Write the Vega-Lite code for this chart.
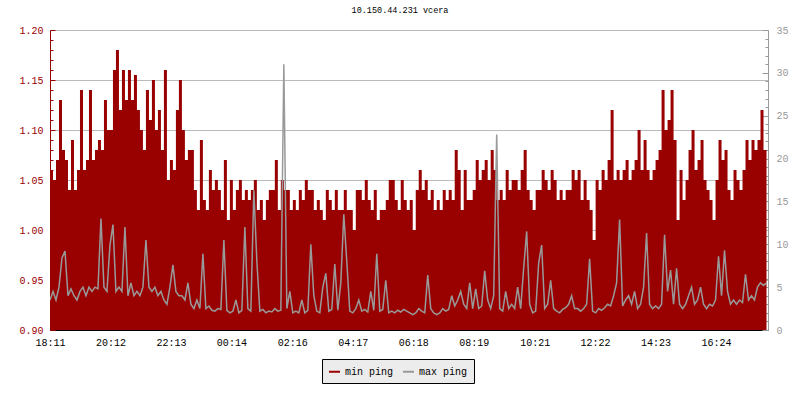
{
"$schema": "https://vega.github.io/schema/vega-lite/v6.json",
"width": 718, "height": 300,
"autosize": {"type": "none"},
"padding": {"left": 50, "top": 30, "right": 32, "bottom": 70},
"title": {"text": "10.150.44.231 vcera", "anchor": "middle", "frame": "group", "dx": -9, "offset": 11, "font": "Liberation Mono", "fontSize": 8.5, "fontWeight": "normal", "color": "#000000"},
"config": {"font": "Liberation Mono", "view": {"stroke": null}, "axis": {"labelFont": "Liberation Mono", "labelFontSize": 10, "title": null}},
"data": {"values": [
{"t":"2023-01-01T18:11","mn":1.06,"mx":3.5},{"t":"2023-01-01T18:17","mn":1.05,"mx":4.5},{"t":"2023-01-01T18:23","mn":1.07,"mx":3.5},{"t":"2023-01-01T18:29","mn":1.13,"mx":5.0},{"t":"2023-01-01T18:35","mn":1.08,"mx":8.4},{"t":"2023-01-01T18:41","mn":1.07,"mx":9.2},{"t":"2023-01-01T18:47","mn":1.04,"mx":4.0},{"t":"2023-01-01T18:53","mn":1.09,"mx":4.8},{"t":"2023-01-01T18:59","mn":1.04,"mx":4.0},{"t":"2023-01-01T19:05","mn":1.06,"mx":3.5},
{"t":"2023-01-01T19:11","mn":1.14,"mx":4.5},{"t":"2023-01-01T19:17","mn":1.06,"mx":5.0},{"t":"2023-01-01T19:23","mn":1.07,"mx":4.0},{"t":"2023-01-01T19:29","mn":1.14,"mx":5.0},{"t":"2023-01-01T19:35","mn":1.07,"mx":4.5},{"t":"2023-01-01T19:41","mn":1.08,"mx":5.0},{"t":"2023-01-01T19:47","mn":1.09,"mx":4.8},{"t":"2023-01-01T19:53","mn":1.08,"mx":13.0},{"t":"2023-01-01T19:59","mn":1.13,"mx":5.0},{"t":"2023-01-01T20:05","mn":1.10,"mx":4.5},
{"t":"2023-01-01T20:11","mn":1.10,"mx":9.9},{"t":"2023-01-01T20:17","mn":1.16,"mx":12.3},{"t":"2023-01-01T20:23","mn":1.18,"mx":4.5},{"t":"2023-01-01T20:29","mn":1.12,"mx":5.0},{"t":"2023-01-01T20:35","mn":1.16,"mx":4.5},{"t":"2023-01-01T20:41","mn":1.13,"mx":12.0},{"t":"2023-01-01T20:47","mn":1.16,"mx":4.0},{"t":"2023-01-01T20:53","mn":1.13,"mx":5.5},{"t":"2023-01-01T20:59","mn":1.155,"mx":4.0},{"t":"2023-01-01T21:05","mn":1.12,"mx":4.5},
{"t":"2023-01-01T21:11","mn":1.10,"mx":4.0},{"t":"2023-01-01T21:17","mn":1.08,"mx":5.0},{"t":"2023-01-01T21:23","mn":1.14,"mx":10.5},{"t":"2023-01-01T21:29","mn":1.11,"mx":5.0},{"t":"2023-01-01T21:35","mn":1.15,"mx":4.5},{"t":"2023-01-01T21:41","mn":1.10,"mx":5.0},{"t":"2023-01-01T21:47","mn":1.12,"mx":4.0},{"t":"2023-01-01T21:53","mn":1.08,"mx":4.5},{"t":"2023-01-01T21:59","mn":1.16,"mx":3.5},{"t":"2023-01-01T22:05","mn":1.05,"mx":3.0},
{"t":"2023-01-01T22:11","mn":1.07,"mx":5.0},{"t":"2023-01-01T22:17","mn":1.06,"mx":7.6},{"t":"2023-01-01T22:23","mn":1.12,"mx":4.5},{"t":"2023-01-01T22:29","mn":1.15,"mx":4.0},{"t":"2023-01-01T22:35","mn":1.10,"mx":4.0},{"t":"2023-01-01T22:41","mn":1.07,"mx":3.5},{"t":"2023-01-01T22:47","mn":1.08,"mx":5.5},{"t":"2023-01-01T22:53","mn":1.08,"mx":3.0},{"t":"2023-01-01T22:59","mn":1.04,"mx":2.5},{"t":"2023-01-01T23:05","mn":1.02,"mx":3.5},
{"t":"2023-01-01T23:11","mn":1.09,"mx":2.5},{"t":"2023-01-01T23:17","mn":1.03,"mx":8.9},{"t":"2023-01-01T23:23","mn":1.02,"mx":2.5},{"t":"2023-01-01T23:29","mn":1.06,"mx":2.8},{"t":"2023-01-01T23:35","mn":1.04,"mx":2.3},{"t":"2023-01-01T23:41","mn":1.05,"mx":2.2},{"t":"2023-01-01T23:47","mn":1.04,"mx":2.5},{"t":"2023-01-01T23:53","mn":1.02,"mx":2.4},{"t":"2023-01-01T23:59","mn":1.07,"mx":10.5},{"t":"2023-01-02T00:05","mn":1.01,"mx":2.3},
{"t":"2023-01-02T00:11","mn":1.05,"mx":2.0},{"t":"2023-01-02T00:17","mn":1.02,"mx":2.2},{"t":"2023-01-02T00:23","mn":1.04,"mx":3.5},{"t":"2023-01-02T00:29","mn":1.05,"mx":2.0},{"t":"2023-01-02T00:35","mn":1.03,"mx":2.3},{"t":"2023-01-02T00:41","mn":1.04,"mx":12.0},{"t":"2023-01-02T00:47","mn":1.03,"mx":2.5},{"t":"2023-01-02T00:53","mn":1.04,"mx":2.2},{"t":"2023-01-02T00:59","mn":1.05,"mx":16.3},{"t":"2023-01-02T01:05","mn":1.02,"mx":8.0},
{"t":"2023-01-02T01:11","mn":1.03,"mx":2.2},{"t":"2023-01-02T01:17","mn":1.01,"mx":2.4},{"t":"2023-01-02T01:23","mn":1.03,"mx":2.0},{"t":"2023-01-02T01:29","mn":1.04,"mx":2.2},{"t":"2023-01-02T01:35","mn":1.04,"mx":2.1},{"t":"2023-01-02T01:41","mn":1.07,"mx":2.5},{"t":"2023-01-02T01:47","mn":1.02,"mx":2.2},{"t":"2023-01-02T01:53","mn":1.05,"mx":2.3},{"t":"2023-01-02T01:59","mn":1.04,"mx":31.0},{"t":"2023-01-02T02:05","mn":1.04,"mx":2.5},
{"t":"2023-01-02T02:11","mn":1.02,"mx":4.5},{"t":"2023-01-02T02:17","mn":1.03,"mx":2.0},{"t":"2023-01-02T02:23","mn":1.02,"mx":2.2},{"t":"2023-01-02T02:29","mn":1.04,"mx":2.0},{"t":"2023-01-02T02:35","mn":1.03,"mx":3.5},{"t":"2023-01-02T02:41","mn":1.05,"mx":2.0},{"t":"2023-01-02T02:47","mn":1.04,"mx":2.3},{"t":"2023-01-02T02:53","mn":1.04,"mx":10.0},{"t":"2023-01-02T02:59","mn":1.02,"mx":4.0},{"t":"2023-01-02T03:05","mn":1.03,"mx":2.2},
{"t":"2023-01-02T03:11","mn":1.02,"mx":2.0},{"t":"2023-01-02T03:17","mn":1.01,"mx":5.0},{"t":"2023-01-02T03:23","mn":1.04,"mx":6.6},{"t":"2023-01-02T03:29","mn":1.03,"mx":2.2},{"t":"2023-01-02T03:35","mn":1.02,"mx":2.4},{"t":"2023-01-02T03:41","mn":1.04,"mx":7.7},{"t":"2023-01-02T03:47","mn":1.02,"mx":2.3},{"t":"2023-01-02T03:53","mn":1.02,"mx":5.5},{"t":"2023-01-02T03:59","mn":1.04,"mx":13.5},{"t":"2023-01-02T04:05","mn":1.02,"mx":8.0},
{"t":"2023-01-02T04:11","mn":1.02,"mx":2.2},{"t":"2023-01-02T04:17","mn":1.00,"mx":2.0},{"t":"2023-01-02T04:23","mn":1.04,"mx":2.5},{"t":"2023-01-02T04:29","mn":1.04,"mx":3.5},{"t":"2023-01-02T04:35","mn":1.03,"mx":2.2},{"t":"2023-01-02T04:41","mn":1.05,"mx":2.4},{"t":"2023-01-02T04:47","mn":1.03,"mx":2.1},{"t":"2023-01-02T04:53","mn":1.02,"mx":4.5},{"t":"2023-01-02T04:59","mn":1.04,"mx":2.3},{"t":"2023-01-02T05:05","mn":1.01,"mx":8.9},
{"t":"2023-01-02T05:11","mn":1.02,"mx":2.2},{"t":"2023-01-02T05:17","mn":1.02,"mx":2.4},{"t":"2023-01-02T05:23","mn":1.03,"mx":5.8},{"t":"2023-01-02T05:29","mn":1.05,"mx":2.0},{"t":"2023-01-02T05:35","mn":1.05,"mx":2.2},{"t":"2023-01-02T05:41","mn":1.03,"mx":2.0},{"t":"2023-01-02T05:47","mn":1.02,"mx":2.3},{"t":"2023-01-02T05:53","mn":1.05,"mx":2.1},{"t":"2023-01-02T05:59","mn":1.03,"mx":2.4},{"t":"2023-01-02T06:05","mn":1.02,"mx":2.2},
{"t":"2023-01-02T06:11","mn":1.03,"mx":2.0},{"t":"2023-01-02T06:17","mn":1.00,"mx":1.8},{"t":"2023-01-02T06:23","mn":1.04,"mx":2.0},{"t":"2023-01-02T06:29","mn":1.06,"mx":2.5},{"t":"2023-01-02T06:35","mn":1.04,"mx":2.2},{"t":"2023-01-02T06:41","mn":1.05,"mx":2.0},{"t":"2023-01-02T06:47","mn":1.03,"mx":6.4},{"t":"2023-01-02T06:53","mn":1.04,"mx":2.5},{"t":"2023-01-02T06:59","mn":1.02,"mx":2.0},{"t":"2023-01-02T07:05","mn":1.03,"mx":1.8},
{"t":"2023-01-02T07:11","mn":1.02,"mx":2.0},{"t":"2023-01-02T07:17","mn":1.04,"mx":2.5},{"t":"2023-01-02T07:23","mn":1.03,"mx":2.2},{"t":"2023-01-02T07:29","mn":1.04,"mx":2.4},{"t":"2023-01-02T07:35","mn":1.03,"mx":4.0},{"t":"2023-01-02T07:41","mn":1.08,"mx":2.8},{"t":"2023-01-02T07:47","mn":1.06,"mx":3.5},{"t":"2023-01-02T07:53","mn":1.02,"mx":4.5},{"t":"2023-01-02T07:59","mn":1.06,"mx":3.0},{"t":"2023-01-02T08:05","mn":1.03,"mx":2.5},
{"t":"2023-01-02T08:11","mn":1.03,"mx":5.5},{"t":"2023-01-02T08:17","mn":1.04,"mx":2.5},{"t":"2023-01-02T08:23","mn":1.07,"mx":4.8},{"t":"2023-01-02T08:29","mn":1.05,"mx":2.5},{"t":"2023-01-02T08:35","mn":1.06,"mx":2.8},{"t":"2023-01-02T08:41","mn":1.07,"mx":6.9},{"t":"2023-01-02T08:47","mn":1.05,"mx":3.5},{"t":"2023-01-02T08:53","mn":1.08,"mx":2.5},{"t":"2023-01-02T08:59","mn":1.06,"mx":4.0},{"t":"2023-01-02T09:05","mn":1.03,"mx":22.8},
{"t":"2023-01-02T09:11","mn":1.04,"mx":2.5},{"t":"2023-01-02T09:17","mn":1.03,"mx":2.2},{"t":"2023-01-02T09:23","mn":1.06,"mx":4.5},{"t":"2023-01-02T09:29","mn":1.04,"mx":2.5},{"t":"2023-01-02T09:35","mn":1.05,"mx":3.0},{"t":"2023-01-02T09:41","mn":1.05,"mx":2.5},{"t":"2023-01-02T09:47","mn":1.04,"mx":5.0},{"t":"2023-01-02T09:53","mn":1.06,"mx":2.5},{"t":"2023-01-02T09:59","mn":1.08,"mx":7.2},{"t":"2023-01-02T10:05","mn":1.04,"mx":11.5},
{"t":"2023-01-02T10:11","mn":1.03,"mx":3.0},{"t":"2023-01-02T10:17","mn":1.02,"mx":2.0},{"t":"2023-01-02T10:23","mn":1.04,"mx":2.2},{"t":"2023-01-02T10:29","mn":1.04,"mx":7.8},{"t":"2023-01-02T10:35","mn":1.06,"mx":9.9},{"t":"2023-01-02T10:41","mn":1.05,"mx":2.5},{"t":"2023-01-02T10:47","mn":1.04,"mx":3.0},{"t":"2023-01-02T10:53","mn":1.06,"mx":5.8},{"t":"2023-01-02T10:59","mn":1.05,"mx":2.5},{"t":"2023-01-02T11:05","mn":1.03,"mx":2.2},
{"t":"2023-01-02T11:11","mn":1.04,"mx":2.0},{"t":"2023-01-02T11:17","mn":1.03,"mx":2.4},{"t":"2023-01-02T11:23","mn":1.04,"mx":2.6},{"t":"2023-01-02T11:29","mn":1.04,"mx":3.0},{"t":"2023-01-02T11:35","mn":1.06,"mx":4.0},{"t":"2023-01-02T11:41","mn":1.05,"mx":2.5},{"t":"2023-01-02T11:47","mn":1.06,"mx":2.5},{"t":"2023-01-02T11:53","mn":1.03,"mx":2.2},{"t":"2023-01-02T11:59","mn":1.05,"mx":2.5},{"t":"2023-01-02T12:05","mn":1.03,"mx":3.0},
{"t":"2023-01-02T12:11","mn":1.02,"mx":8.3},{"t":"2023-01-02T12:17","mn":0.99,"mx":2.2},{"t":"2023-01-02T12:23","mn":1.05,"mx":2.0},{"t":"2023-01-02T12:29","mn":1.04,"mx":2.5},{"t":"2023-01-02T12:35","mn":1.06,"mx":2.3},{"t":"2023-01-02T12:41","mn":1.05,"mx":2.6},{"t":"2023-01-02T12:47","mn":1.07,"mx":3.0},{"t":"2023-01-02T12:53","mn":1.12,"mx":2.8},{"t":"2023-01-02T12:59","mn":1.05,"mx":4.0},{"t":"2023-01-02T13:05","mn":1.06,"mx":5.5},
{"t":"2023-01-02T13:11","mn":1.05,"mx":12.9},{"t":"2023-01-02T13:17","mn":1.06,"mx":2.8},{"t":"2023-01-02T13:23","mn":1.07,"mx":3.5},{"t":"2023-01-02T13:29","mn":1.05,"mx":4.0},{"t":"2023-01-02T13:35","mn":1.06,"mx":3.0},{"t":"2023-01-02T13:41","mn":1.07,"mx":4.5},{"t":"2023-01-02T13:47","mn":1.10,"mx":2.5},{"t":"2023-01-02T13:53","mn":1.06,"mx":3.0},{"t":"2023-01-02T13:59","mn":1.09,"mx":5.0},{"t":"2023-01-02T14:05","mn":1.06,"mx":11.3},
{"t":"2023-01-02T14:11","mn":1.05,"mx":3.0},{"t":"2023-01-02T14:17","mn":1.06,"mx":2.5},{"t":"2023-01-02T14:23","mn":1.07,"mx":2.8},{"t":"2023-01-02T14:29","mn":1.08,"mx":2.5},{"t":"2023-01-02T14:35","mn":1.14,"mx":3.0},{"t":"2023-01-02T14:41","mn":1.10,"mx":11.1},{"t":"2023-01-02T14:47","mn":1.11,"mx":4.5},{"t":"2023-01-02T14:53","mn":1.14,"mx":7.0},{"t":"2023-01-02T14:59","mn":1.09,"mx":3.0},{"t":"2023-01-02T15:05","mn":1.01,"mx":7.2},
{"t":"2023-01-02T15:11","mn":1.06,"mx":3.0},{"t":"2023-01-02T15:17","mn":1.03,"mx":2.5},{"t":"2023-01-02T15:23","mn":1.05,"mx":3.0},{"t":"2023-01-02T15:29","mn":1.08,"mx":4.0},{"t":"2023-01-02T15:35","mn":1.10,"mx":5.0},{"t":"2023-01-02T15:41","mn":1.06,"mx":3.0},{"t":"2023-01-02T15:47","mn":1.07,"mx":3.5},{"t":"2023-01-02T15:53","mn":1.09,"mx":5.0},{"t":"2023-01-02T15:59","mn":1.05,"mx":3.0},{"t":"2023-01-02T16:05","mn":1.04,"mx":2.5},
{"t":"2023-01-02T16:11","mn":1.03,"mx":3.0},{"t":"2023-01-02T16:17","mn":1.01,"mx":2.8},{"t":"2023-01-02T16:23","mn":1.05,"mx":3.5},{"t":"2023-01-02T16:29","mn":1.09,"mx":8.6},{"t":"2023-01-02T16:35","mn":1.07,"mx":4.0},{"t":"2023-01-02T16:41","mn":1.08,"mx":9.3},{"t":"2023-01-02T16:47","mn":1.04,"mx":4.5},{"t":"2023-01-02T16:53","mn":1.03,"mx":3.0},{"t":"2023-01-02T16:59","mn":1.06,"mx":3.5},{"t":"2023-01-02T17:05","mn":1.05,"mx":3.0},
{"t":"2023-01-02T17:11","mn":1.04,"mx":3.5},{"t":"2023-01-02T17:17","mn":1.06,"mx":3.2},{"t":"2023-01-02T17:23","mn":1.09,"mx":6.5},{"t":"2023-01-02T17:29","mn":1.07,"mx":3.5},{"t":"2023-01-02T17:35","mn":1.09,"mx":4.0},{"t":"2023-01-02T17:41","mn":1.08,"mx":3.5},{"t":"2023-01-02T17:47","mn":1.09,"mx":5.0},{"t":"2023-01-02T17:53","mn":1.12,"mx":5.5},{"t":"2023-01-02T17:59","mn":1.08,"mx":5.2},{"t":"2023-01-02T18:05","mn":1.05,"mx":5.5}
]},
"encoding": {
  "x": {"field": "t", "type": "temporal",
    "scale": {"domain": [{"year": 2023, "month": 1, "date": 1, "hours": 18, "minutes": 11}, {"year": 2023, "month": 1, "date": 2, "hours": 18, "minutes": 8}]},
    "axis": {"format": "%H:%M", "grid": false, "labelFlush": false, "labelOverlap": false, "labelColor": "#000000", "domainColor": "#000000", "tickColor": "#000000", "tickSize": -6, "labelPadding": 13,
      "values": [
        {"year": 2023, "month": 1, "date": 1, "hours": 18, "minutes": 11},
        {"year": 2023, "month": 1, "date": 1, "hours": 20, "minutes": 12},
        {"year": 2023, "month": 1, "date": 1, "hours": 22, "minutes": 13},
        {"year": 2023, "month": 1, "date": 2, "hours": 0, "minutes": 14},
        {"year": 2023, "month": 1, "date": 2, "hours": 2, "minutes": 16},
        {"year": 2023, "month": 1, "date": 2, "hours": 4, "minutes": 17},
        {"year": 2023, "month": 1, "date": 2, "hours": 6, "minutes": 18},
        {"year": 2023, "month": 1, "date": 2, "hours": 8, "minutes": 19},
        {"year": 2023, "month": 1, "date": 2, "hours": 10, "minutes": 21},
        {"year": 2023, "month": 1, "date": 2, "hours": 12, "minutes": 22},
        {"year": 2023, "month": 1, "date": 2, "hours": 14, "minutes": 23},
        {"year": 2023, "month": 1, "date": 2, "hours": 16, "minutes": 24}
      ]}}
},
"layer": [
  {"mark": {"type": "area", "interpolate": "step-after", "opacity": 1, "clip": true},
   "encoding": {
     "y": {"field": "mn", "type": "quantitative",
       "scale": {"domain": [0.9, 1.2], "zero": false, "nice": false},
       "axis": {"orient": "left", "values": [0.9,0.91,0.92,0.93,0.94,0.95,0.96,0.97,0.98,0.99,1.0,1.01,1.02,1.03,1.04,1.05,1.06,1.07,1.08,1.09,1.1,1.11,1.12,1.13,1.14,1.15,1.16,1.17,1.18,1.19,1.2],
         "labelExpr": "round(datum.value*100) % 5 == 0 ? format(datum.value, '.2f') : ''",
         "labelColor": "#990000", "domainColor": "#990000", "tickColor": "#990000",
         "tickSize": {"condition": {"test": "round(datum.value*100) % 5 != 0", "value": -3}, "value": -5},
         "labelPadding": 12, "labelOverlap": false, "labelFlush": false,
         "grid": true, "gridColor": "#bbbbbb",
         "gridOpacity": {"condition": {"test": "round(datum.value*100) % 5 != 0", "value": 0}, "value": 1}}},
     "color": {"datum": "min ping", "type": "nominal",
       "scale": {"domain": ["min ping", "max ping"], "range": ["#990000", "#999999"]},
       "legend": {"orient": "none", "legendX": 272, "legendY": 329, "direction": "horizontal", "title": null,
         "symbolType": "stroke", "symbolSize": 121, "symbolStrokeWidth": 2, "labelFont": "Liberation Mono", "labelFontSize": 10, "labelColor": "#000000",
         "labelOffset": 4, "columnPadding": 5, "padding": 6, "fillColor": "#ececec", "strokeColor": "#000000",
         "labelExpr": "datum.label == 'max ping' ? 'max ping  ' : datum.label"}}
   }},
  {"mark": {"type": "line", "interpolate": "linear", "strokeWidth": 1.5, "clip": true},
   "encoding": {
     "y": {"field": "mx", "type": "quantitative",
       "scale": {"domain": [0, 35], "nice": false},
       "axis": {"orient": "right", "values": [0,1,2,3,4,5,6,7,8,9,10,11,12,13,14,15,16,17,18,19,20,21,22,23,24,25,26,27,28,29,30,31,32,33,34,35],
         "labelExpr": "datum.value % 5 == 0 ? datum.label : ''",
         "labelColor": "#999999", "domainColor": "#999999", "tickColor": "#999999",
         "tickSize": {"condition": {"test": "datum.value % 5 != 0", "value": -3}, "value": -6},
         "labelPadding": 14, "labelOverlap": false, "labelFlush": false, "grid": false}},
     "color": {"datum": "max ping", "type": "nominal"}
   }}
],
"resolve": {"scale": {"y": "independent"}}
}
